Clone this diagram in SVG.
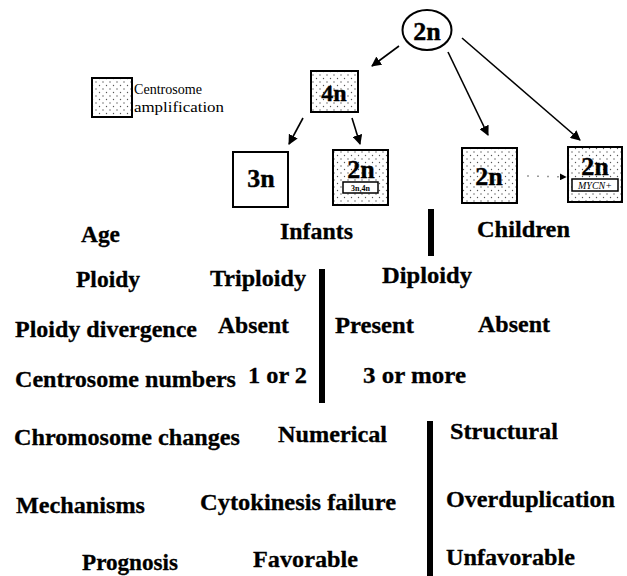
<svg xmlns="http://www.w3.org/2000/svg" width="627" height="576" viewBox="0 0 627 576">
<style>
.lbl{font-family:"Liberation Serif","Times New Roman",serif;font-weight:bold;font-size:24px;fill:#000;stroke:#000;stroke-width:0.3}
.box{stroke:#000;stroke-width:2}
.bt{font-family:"Liberation Serif","Times New Roman",serif;font-weight:bold;font-size:26px;fill:#000;text-anchor:middle;stroke:#000;stroke-width:0.4}
.leg{font-family:"Liberation Serif","Times New Roman",serif;font-size:15px;fill:#000}
.con{stroke:#000;stroke-width:1.6;fill:none}
.bar{fill:#000}
</style>
<defs>
<pattern id="dots" width="7" height="7" patternUnits="userSpaceOnUse">
<rect width="7" height="7" fill="#fff"/>
<circle cx="1.5" cy="1.5" r="0.7" fill="#555"/>
<circle cx="5" cy="5" r="0.7" fill="#555"/>
</pattern>
<marker id="ah" viewBox="0 0 10 10" refX="9" refY="5" markerWidth="7" markerHeight="7" markerUnits="userSpaceOnUse" orient="auto">
<path d="M0,0 L10,5 L0,10 Z" fill="#000"/>
</marker>
<marker id="ah2" viewBox="0 0 10 10" refX="9" refY="5" markerWidth="10" markerHeight="10" markerUnits="userSpaceOnUse" orient="auto">
<path d="M0,0 L10,5 L0,10 Z" fill="#000"/>
</marker>
</defs>

<g id="legend">
<rect class="box" x="92" y="78" width="40" height="39" fill="url(#dots)" stroke-width="1.5"/>
<text class="leg" x="134" y="94" textLength="68" lengthAdjust="spacingAndGlyphs">Centrosome</text>
<text class="leg" x="134" y="112" textLength="90" lengthAdjust="spacingAndGlyphs">amplification</text>
</g>

<g id="connectors">
<line class="con" x1="399" y1="46" x2="372" y2="66" marker-end="url(#ah2)"/>
<line class="con" x1="303" y1="118" x2="289" y2="144" marker-end="url(#ah2)"/>
<line class="con" x1="352" y1="118" x2="360" y2="144" marker-end="url(#ah2)"/>
<line class="con" x1="448" y1="52" x2="488" y2="135" marker-end="url(#ah2)"/>
<line class="con" x1="462" y1="38" x2="580" y2="140" marker-end="url(#ah2)"/>
<line x1="527" y1="176" x2="566" y2="177" stroke="#999" stroke-width="1.5" stroke-dasharray="2,8" marker-end="url(#ah)"/>
</g>

<g id="node-2n-root">
<ellipse cx="427" cy="30" rx="24.5" ry="20" fill="#fff" stroke="#000" stroke-width="2"/>
<text class="bt" x="427" y="40">2n</text>
</g>

<g id="node-4n">
<rect class="box" x="311" y="71" width="47" height="41" fill="url(#dots)"/>
<text class="bt" x="334" y="101" style="font-size:24px">4n</text>
</g>

<g id="node-3n">
<rect class="box" x="233" y="152" width="55" height="55" fill="#fff"/>
<text class="bt" x="261" y="187">3n</text>
</g>

<g id="node-2n-34n">
<rect class="box" x="333" y="150" width="55" height="55" fill="url(#dots)"/>
<text class="bt" x="361" y="178">2n</text>
<rect x="343" y="182" width="35" height="11" fill="#fff" stroke="#000" stroke-width="1.5"/>
<text x="360.5" y="191" text-anchor="middle" font-family="Liberation Serif, serif" font-weight="bold" font-size="8">3n,4n</text>
</g>

<g id="node-2n-children">
<rect class="box" x="462" y="148" width="55" height="55" fill="url(#dots)"/>
<text class="bt" x="489" y="185">2n</text>
</g>

<g id="node-2n-mycn">
<rect class="box" x="568" y="147" width="54" height="55" fill="url(#dots)"/>
<text class="bt" x="595" y="175">2n</text>
<rect x="572" y="179" width="46" height="12" fill="#fff" stroke="#000" stroke-width="1.5"/>
<text x="595" y="189" text-anchor="middle" font-family="Liberation Serif, serif" font-style="italic" font-size="10">MYCN+</text>
</g>

<g id="dividers">
<rect class="bar" x="428" y="209" width="6" height="47"/>
<rect class="bar" x="319" y="269" width="6" height="134"/>
<rect class="bar" x="427" y="421" width="6" height="155"/>
</g>

<g id="table">
<text class="lbl" x="81" y="242" textLength="39" lengthAdjust="spacingAndGlyphs">Age</text>
<text class="lbl" x="280" y="239" textLength="73" lengthAdjust="spacingAndGlyphs">Infants</text>
<text class="lbl" x="477" y="237" textLength="93" lengthAdjust="spacingAndGlyphs">Children</text>
<text class="lbl" x="76" y="287" textLength="64" lengthAdjust="spacingAndGlyphs">Ploidy</text>
<text class="lbl" x="210" y="286" textLength="96" lengthAdjust="spacingAndGlyphs">Triploidy</text>
<text class="lbl" x="382" y="283" textLength="90" lengthAdjust="spacingAndGlyphs">Diploidy</text>
<text class="lbl" x="15" y="337" textLength="182" lengthAdjust="spacingAndGlyphs">Ploidy divergence</text>
<text class="lbl" x="218" y="333" textLength="71" lengthAdjust="spacingAndGlyphs">Absent</text>
<text class="lbl" x="335" y="333" textLength="79" lengthAdjust="spacingAndGlyphs">Present</text>
<text class="lbl" x="478" y="332" textLength="72" lengthAdjust="spacingAndGlyphs">Absent</text>
<text class="lbl" x="15" y="387" textLength="221" lengthAdjust="spacingAndGlyphs">Centrosome numbers</text>
<text class="lbl" x="248" y="383" textLength="59" lengthAdjust="spacingAndGlyphs">1 or 2</text>
<text class="lbl" x="363" y="383" textLength="103" lengthAdjust="spacingAndGlyphs">3 or more</text>
<text class="lbl" x="14" y="445" textLength="226" lengthAdjust="spacingAndGlyphs">Chromosome changes</text>
<text class="lbl" x="278" y="442" textLength="109" lengthAdjust="spacingAndGlyphs">Numerical</text>
<text class="lbl" x="450" y="439" textLength="108" lengthAdjust="spacingAndGlyphs">Structural</text>
<text class="lbl" x="16" y="513" textLength="129" lengthAdjust="spacingAndGlyphs">Mechanisms</text>
<text class="lbl" x="200" y="510" textLength="196" lengthAdjust="spacingAndGlyphs">Cytokinesis failure</text>
<text class="lbl" x="446" y="507" textLength="169" lengthAdjust="spacingAndGlyphs">Overduplication</text>
<text class="lbl" x="82" y="570" textLength="96" lengthAdjust="spacingAndGlyphs">Prognosis</text>
<text class="lbl" x="253" y="567" textLength="105" lengthAdjust="spacingAndGlyphs">Favorable</text>
<text class="lbl" x="446" y="565" textLength="129" lengthAdjust="spacingAndGlyphs">Unfavorable</text>
</g>
</svg>
